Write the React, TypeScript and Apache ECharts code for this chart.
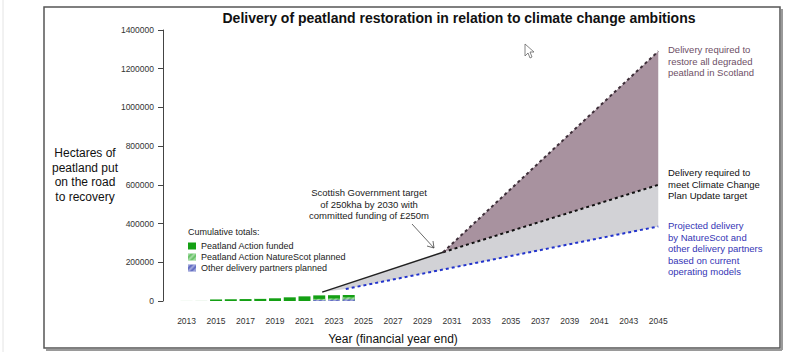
import React, { useEffect, useRef } from "react";
import * as echarts from "echarts";

// ---- Data ----
const barYears = [2013, 2014, 2015, 2016, 2017, 2018, 2019, 2020, 2021, 2022, 2023, 2024];
const actionFunded = [1000, 1500, 8000, 9000, 10000, 11000, 14000, 19000, 24000, 29000, 30000, 31000];
const natureScotPlanned = [0, 0, 0, 0, 0, 0, 0, 0, 0, 11000, 13000, 19000];
const otherPartnersPlanned = [0, 0, 0, 0, 0, 0, 0, 0, 0, 5000, 6000, 8000];

const targetYears = [2022.2, 2030.4];
const targetValues = [46000, 252000];
const ccpYears = [2030.4, 2045];
const ccpValues = [252000, 600000];
const restoreAllYears = [2030.4, 2045];
const restoreAllValues = [252000, 1290000];
const projectedYears = [2023.8, 2045];
const projectedValues = [62000, 385000];

const xTickLabels = [2013, 2015, 2017, 2019, 2021, 2023, 2025, 2027, 2029, 2031, 2033, 2035, 2037, 2039, 2041, 2043, 2045];
const yTicks = [0, 200000, 400000, 600000, 800000, 1000000, 1200000, 1400000];

const FONT = "Liberation Sans, Arial, sans-serif";

const pairs = (xs: number[], ys: number[]) => xs.map((x, i) => [x, ys[i]]);

export default function App() {
  const ref = useRef<HTMLDivElement>(null);
  useEffect(() => {
    if (!ref.current) return;
    const chart = echarts.init(ref.current, undefined, { renderer: "svg" });

    const purplePoly = [
      [restoreAllYears[0], restoreAllValues[0]],
      [restoreAllYears[1], restoreAllValues[1]],
      [ccpYears[1], ccpValues[1]],
      [ccpYears[0], ccpValues[0]],
    ];
    const grayPoly = [
      [targetYears[0], targetValues[0]],
      [targetYears[1], targetValues[1]],
      [ccpYears[1], ccpValues[1]],
      [projectedYears[1], projectedValues[1]],
      [projectedYears[0], projectedValues[0]],
    ];
    const polySeries = (data: number[][], fill: string, z: number) => ({
      type: "custom",
      z,
      silent: true,
      clip: false,
      encode: { x: 0, y: 1 },
      data,
      renderItem: (params: any, api: any) => {
        if (params.dataIndex !== 0) return null;
        const pts = data.map((p) => api.coord(p));
        return { type: "polygon", shape: { points: pts }, style: { fill } };
      },
    });

    const hatch = {
      symbol: "rect",
      dashArrayX: [1, 0],
      dashArrayY: [1.5, 2],
      rotation: -Math.PI / 4,
      color: "rgba(255,255,255,0.35)",
    };

    const fundedData = barYears.map((y, i) =>
      i < 2
        ? { value: [y, actionFunded[i]], itemStyle: { color: "#cfe8cf" } }
        : { value: [y, actionFunded[i]] }
    );

    chart.setOption({
      animation: false,
      backgroundColor: "#ffffff",
      textStyle: { fontFamily: FONT },
      grid: { left: 163, top: 30, height: 271, width: 510 },
      xAxis: {
        type: "value",
        min: 2011.4,
        max: 2046,
        axisLine: { show: false },
        axisTick: { show: false },
        splitLine: { show: false },
        axisLabel: {
          customValues: xTickLabels,
          fontSize: 8.5,
          color: "#333",
          margin: 15,
          fontFamily: FONT,
          formatter: (v: number) => String(v),
        },
      },
      yAxis: {
        type: "value",
        min: 0,
        max: 1400000,
        interval: 200000,
        axisLine: { show: true, lineStyle: { color: "#444", width: 1 } },
        axisTick: { show: true, length: 5, lineStyle: { color: "#444" }, customValues: yTicks },
        splitLine: { show: false },
        axisLabel: { fontSize: 8.5, color: "#333", margin: 9, fontFamily: FONT, formatter: (v: number) => String(v) },
      },
      legend: {
        left: 188,
        top: 241.5,
        padding: 0,
        orient: "vertical",
        itemWidth: 8,
        itemHeight: 7,
        itemGap: 2,
        icon: "rect",
        textStyle: { fontSize: 9, color: "#222", fontFamily: FONT },
        data: ["Peatland Action funded", "Peatland Action NatureScot planned", "Other delivery partners planned"],
        selectedMode: false,
      },
      series: [
        polySeries(grayPoly, "#d2d2d6", 1),
        polySeries(purplePoly, "#a8929f", 2),
        {
          type: "line",
          z: 3,
          symbol: "none",
          data: pairs(targetYears, targetValues),
          lineStyle: { color: "#222", width: 1.5 },
        },
        {
          type: "line",
          z: 3,
          symbol: "none",
          data: pairs(ccpYears, ccpValues),
          lineStyle: { color: "#111", width: 2, type: [3, 3] },
        },
        {
          type: "line",
          z: 3,
          symbol: "none",
          data: pairs(restoreAllYears, restoreAllValues),
          lineStyle: { color: "#3d2e38", width: 2, type: [3, 3] },
        },
        {
          type: "line",
          z: 3,
          symbol: "none",
          data: pairs(projectedYears, projectedValues),
          lineStyle: { color: "#2233cc", width: 2, type: [3, 3] },
        },
        {
          name: "Peatland Action funded",
          type: "bar",
          stack: "cum",
          z: 4,
          barWidth: 12,
          data: fundedData,
          itemStyle: { color: "#14a014" },
        },
        {
          name: "Peatland Action NatureScot planned",
          type: "bar",
          stack: "cum",
          z: 4,
          barWidth: 12,
          data: pairs(barYears, natureScotPlanned),
          itemStyle: { color: "#6cc46c", decal: hatch },
        },
        {
          name: "Other delivery partners planned",
          type: "bar",
          stack: "cum",
          z: 4,
          barWidth: 12,
          data: pairs(barYears, otherPartnersPlanned),
          itemStyle: { color: "#6670c4", decal: hatch },
        },
      ],
      graphic: [
        { type: "line", shape: { x1: 3, y1: 0, x2: 3, y2: 352 }, style: { stroke: "#e4e4e4", lineWidth: 1 }, silent: true },
        { type: "line", shape: { x1: 782, y1: 9, x2: 782, y2: 350 }, style: { stroke: "#9a9a9a", lineWidth: 2 }, silent: true },
        { type: "line", shape: { x1: 46, y1: 350, x2: 782, y2: 350 }, style: { stroke: "#9a9a9a", lineWidth: 2 }, silent: true },
        { type: "rect", shape: { x: 44, y: 7, width: 736, height: 341 }, style: { fill: "none", stroke: "#555", lineWidth: 1.5 }, silent: true },
        {
          type: "polygon",
          shape: { points: [[525, 44], [525, 56], [528, 53], [530, 58], [532, 57], [530, 52], [534, 52]] },
          style: { fill: "#fff", stroke: "#666", lineWidth: 0.8 },
          silent: true,
        },
        {
          type: "text",
          x: 459,
          y: 18,
          style: {
            text: "Delivery of peatland restoration in relation to climate change ambitions",
            font: `bold 14px ${FONT}`,
            fill: "#111",
            align: "center",
            verticalAlign: "middle",
          },
        },
        {
          type: "text",
          x: 85,
          y: 146,
          style: {
            text: "Hectares of\npeatland put\non the road\nto recovery",
            font: `12px ${FONT}`,
            lineHeight: 14.5,
            fill: "#111",
            align: "center",
            verticalAlign: "top",
          },
        },
        {
          type: "text",
          x: 393,
          y: 339,
          style: {
            text: "Year (financial year end)",
            font: `12px ${FONT}`,
            fill: "#111",
            align: "center",
            verticalAlign: "middle",
          },
        },
        {
          type: "text",
          x: 188,
          y: 232,
          style: { text: "Cumulative totals:", font: `9px ${FONT}`, fill: "#222", align: "left", verticalAlign: "middle" },
        },
        {
          type: "text",
          x: 369,
          y: 187,
          style: {
            text: "Scottish Government target\nof 250kha by 2030 with\ncommitted funding of £250m",
            font: `9.5px ${FONT}`,
            lineHeight: 11.5,
            fill: "#222",
            align: "center",
            verticalAlign: "top",
          },
        },
        { type: "line", shape: { x1: 412, y1: 224, x2: 434, y2: 248 }, style: { stroke: "#444", lineWidth: 0.8 }, silent: true },
        { type: "polyline", shape: { points: [[427, 246], [434, 248], [433, 241]] }, style: { stroke: "#444", lineWidth: 0.8, fill: "none" }, silent: true },
        {
          type: "text",
          x: 668,
          y: 44,
          style: {
            text: "Delivery required to\nrestore all degraded\npeatland in Scotland",
            font: `9.5px ${FONT}`,
            lineHeight: 11.5,
            fill: "#6e4f66",
            align: "left",
            verticalAlign: "top",
          },
        },
        {
          type: "text",
          x: 668,
          y: 167,
          style: {
            text: "Delivery required to\nmeet Climate Change\nPlan Update target",
            font: `9.5px ${FONT}`,
            lineHeight: 11.5,
            fill: "#111",
            align: "left",
            verticalAlign: "top",
          },
        },
        {
          type: "text",
          x: 668,
          y: 220,
          style: {
            text: "Projected delivery\nby NatureScot and\nother delivery partners\nbased on current\noperating models",
            font: `9.5px ${FONT}`,
            lineHeight: 11.5,
            fill: "#3535b5",
            align: "left",
            verticalAlign: "top",
          },
        },
      ],
    });
    return () => chart.dispose();
  }, []);
  return <div ref={ref} style={{ position: "absolute", left: 0, top: 0, width: 800, height: 362 }} />;
}
